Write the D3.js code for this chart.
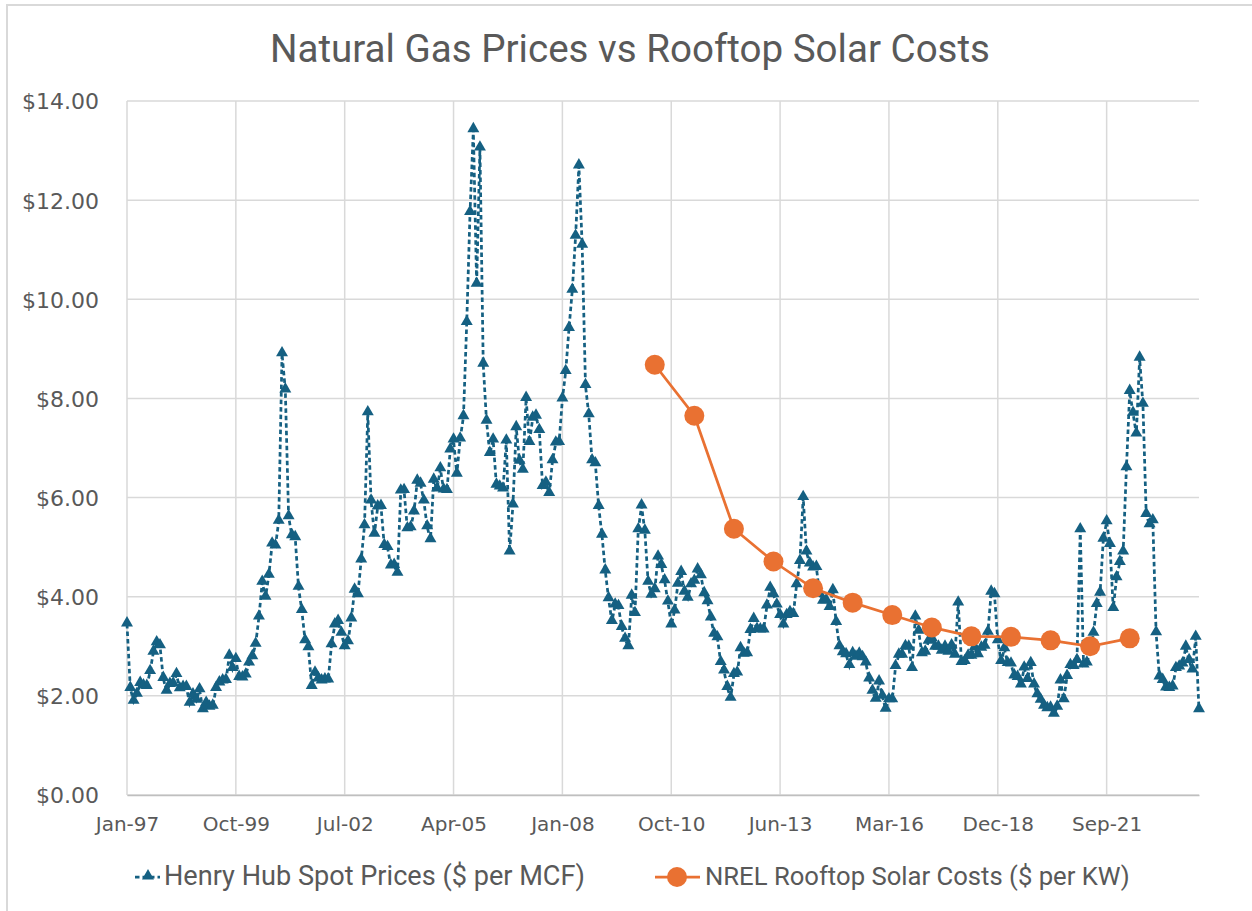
<!DOCTYPE html>
<html>
<head>
<meta charset="utf-8">
<script src="https://cdn.jsdelivr.net/npm/d3@7"></script>
<style>
  html, body { margin: 0; padding: 0; background: #fff; }
  svg { display: block; }
</style>
</head>
<body>
<svg id="chart" width="1252" height="911"></svg>
<script>
// ---------- DATA ----------
const chartTitle = "Natural Gas Prices vs Rooftop Solar Costs";
const gasStart = "1997-01"; // first month of the Henry Hub series
// Henry Hub monthly spot prices ($ per MCF), Jan-1997 .. Feb-2024
const gasPrices = [
  3.45, 2.15, 1.89, 2.03, 2.25, 2.20, 2.19, 2.49, 2.88, 3.07, 3.01, 2.35,
  2.09, 2.23, 2.24, 2.43, 2.14, 2.17, 2.17, 1.85, 2.02, 1.91, 2.12, 1.72,
  1.85, 1.77, 1.79, 2.15, 2.26, 2.30, 2.31, 2.80, 2.55, 2.73, 2.37, 2.36,
  2.42, 2.66, 2.79, 3.04, 3.59, 4.29, 3.99, 4.43, 5.06, 5.02, 5.52, 8.90,
  8.17, 5.61, 5.23, 5.19, 4.19, 3.72, 3.11, 2.97, 2.19, 2.46, 2.34, 2.30,
  2.32, 2.32, 3.03, 3.43, 3.50, 3.26, 2.99, 3.09, 3.55, 4.13, 4.04, 4.74,
  5.43, 7.71, 5.93, 5.26, 5.81, 5.82, 5.03, 4.99, 4.62, 4.63, 4.47, 6.13,
  6.14, 5.37, 5.39, 5.71, 6.33, 6.27, 5.93, 5.41, 5.15, 6.35, 6.17, 6.58,
  6.15, 6.14, 6.96, 7.16, 6.47, 7.18, 7.63, 9.53, 11.75, 13.42, 10.30, 13.05,
  8.69, 7.54, 6.89, 7.16, 6.25, 6.21, 6.17, 7.14, 4.90, 5.85, 7.41, 6.73,
  6.55, 8.00, 7.11, 7.60, 7.64, 7.35, 6.22, 6.29, 6.08, 6.74, 7.10, 7.11,
  7.99, 8.54, 9.41, 10.18, 11.27, 12.69, 11.09, 8.26, 7.67, 6.74, 6.68, 5.82,
  5.24, 4.52, 3.96, 3.50, 3.83, 3.80, 3.38, 3.14, 2.99, 4.01, 3.66, 5.35,
  5.83, 5.32, 4.29, 4.03, 4.14, 4.80, 4.63, 4.32, 3.89, 3.43, 3.71, 4.25,
  4.49, 4.09, 3.97, 4.24, 4.31, 4.54, 4.42, 4.06, 3.90, 3.57, 3.24, 3.17,
  2.67, 2.50, 2.17, 1.95, 2.43, 2.46, 2.95, 2.84, 2.85, 3.32, 3.54, 3.34,
  3.33, 3.33, 3.81, 4.17, 4.04, 3.83, 3.62, 3.43, 3.62, 3.68, 3.64, 4.24,
  4.71, 6.00, 4.90, 4.66, 4.58, 4.59, 4.05, 3.91, 3.92, 3.78, 4.12, 3.48,
  2.99, 2.87, 2.83, 2.61, 2.85, 2.78, 2.84, 2.77, 2.66, 2.34, 2.09, 1.93,
  2.28, 1.99, 1.73, 1.92, 1.92, 2.59, 2.82, 2.82, 2.99, 2.98, 2.55, 3.59,
  3.30, 2.85, 2.88, 3.10, 3.15, 2.98, 2.98, 2.90, 2.98, 2.88, 3.01, 2.82,
  3.87, 2.67, 2.69, 2.80, 2.80, 2.97, 2.83, 2.96, 3.00, 3.28, 4.09, 4.04,
  3.11, 2.69, 2.95, 2.65, 2.64, 2.40, 2.37, 2.22, 2.56, 2.33, 2.65, 2.22,
  2.02, 1.91, 1.79, 1.74, 1.75, 1.63, 1.77, 2.30, 1.92, 2.39, 2.61, 2.59,
  2.71, 5.35, 2.62, 2.66, 2.91, 3.26, 3.84, 4.07, 5.16, 5.51, 5.05, 3.76,
  4.38, 4.69, 4.90, 6.60, 8.14, 7.70, 7.28, 8.81, 7.88, 5.66, 5.45, 5.53,
  3.27, 2.38, 2.31, 2.16, 2.15, 2.18, 2.55, 2.58, 2.64, 2.98, 2.71, 2.52,
  3.18, 1.72
];
// NREL rooftop solar costs ($ per KW), one value per year
const solarMonths = ["2010-05","2011-05","2012-05","2013-05","2014-05","2015-05","2016-05",
                     "2017-05","2018-05","2019-05","2020-05","2021-05","2022-05"];
const solarCosts  = [8.68, 7.65, 5.37, 4.71, 4.17, 3.88, 3.63, 3.38, 3.20, 3.19, 3.12, 3.00, 3.16];
// category-axis tick labels (every 33rd month of the gas series)
const xTickIndex  = [0, 33, 66, 99, 132, 165, 198, 231, 264, 297];
const xTickLabels = ["Jan-97","Oct-99","Jul-02","Apr-05","Jan-08","Oct-10","Jun-13","Mar-16","Dec-18","Sep-21"];
const yTicks = [0, 2, 4, 6, 8, 10, 12, 14];
const seriesNames = ["Henry Hub Spot Prices ($ per MCF)", "NREL Rooftop Solar Costs ($ per KW)"];

// ---------- LAYOUT ----------
const W = 1252, H = 911;
const plot = { left: 127, right: 1199, top: 101, bottom: 795 };
const gasColor = "#156082", solarColor = "#E97132", textColor = "#595959", gridColor = "#d9d9d9";

const monthIndex = s => {
  const [yy, mm] = s.split("-").map(Number);
  const [y0, m0] = gasStart.split("-").map(Number);
  return (yy - y0) * 12 + (mm - m0);
};
// choose a font size so that a text spans a target width
function fitFont(sel, target) {
  const fs = +sel.attr("font-size");
  const w = sel.node().getComputedTextLength();
  if (w > 0) sel.attr("font-size", (fs * target / w).toFixed(2));
}

const svg = d3.select("#chart");
svg.append("rect").attr("width", W).attr("height", H).attr("fill", "#fff");
// outer chart border
svg.append("rect").attr("x", 7).attr("y", 5).attr("width", W + 10).attr("height", H + 10)
  .attr("fill", "none").attr("stroke", "#d9d9d9").attr("stroke-width", 2);

const x = d3.scaleLinear().domain([0, gasPrices.length - 1]).range([plot.left, plot.right]);
const y = d3.scaleLinear().domain([0, 14]).range([plot.bottom, plot.top]);

// gridlines
const g = svg.append("g");
g.append("g").selectAll("line").data(yTicks).join("line")
  .attr("x1", plot.left).attr("x2", plot.right)
  .attr("y1", d => y(d)).attr("y2", d => y(d))
  .attr("stroke", gridColor).attr("stroke-width", 1.5);
g.append("g").selectAll("line").data(xTickIndex).join("line")
  .attr("x1", d => x(d)).attr("x2", d => x(d))
  .attr("y1", plot.top).attr("y2", plot.bottom)
  .attr("stroke", gridColor).attr("stroke-width", 1.5);

// axes
const yAxis = d3.axisLeft(y).tickValues(yTicks).tickSize(0).tickPadding(0)
  .tickFormat(d => "$" + d.toFixed(2));
const yG = svg.append("g").attr("transform", `translate(${plot.left - 28},0)`).call(yAxis);
yG.select(".domain").remove();
yG.selectAll("text").attr("font-family", "DejaVu Sans").attr("font-size", 22)
  .attr("fill", textColor).attr("dy", "0.36em");

const xAxis = d3.axisBottom(x).tickValues(xTickIndex).tickSize(0).tickPadding(0)
  .tickFormat((d, i) => xTickLabels[i]);
const xG = svg.append("g").attr("transform", `translate(0,${plot.bottom})`).call(xAxis);
xG.select(".domain").attr("stroke", "#bfbfbf").attr("stroke-width", 1.5);
xG.selectAll("text").attr("font-family", "DejaVu Sans").attr("font-size", 20)
  .attr("fill", textColor).attr("dy", 0).attr("y", 36);

// Henry Hub series
const gasLine = d3.line().x((d, i) => x(i)).y(d => y(d));
svg.append("path").datum(gasPrices).attr("d", gasLine)
  .attr("fill", "none").attr("stroke", gasColor).attr("stroke-width", 2.75)
  .attr("stroke-dasharray", "4.5,3");
const tri = d3.symbol().type(d3.symbolTriangle).size(62);
svg.append("g").selectAll("path").data(gasPrices).join("path")
  .attr("d", tri).attr("transform", (d, i) => `translate(${x(i)},${y(d) - 1})`)
  .attr("fill", gasColor);

// Solar series
const solar = solarCosts.map((v, i) => ({ m: monthIndex(solarMonths[i]), v }));
const solarLine = d3.line().x(d => x(d.m)).y(d => y(d.v));
svg.append("path").datum(solar).attr("d", solarLine)
  .attr("fill", "none").attr("stroke", solarColor).attr("stroke-width", 2.75);
svg.append("g").selectAll("circle").data(solar).join("circle")
  .attr("cx", d => x(d.m)).attr("cy", d => y(d.v)).attr("r", 10)
  .attr("fill", solarColor);

// Title
const title = svg.append("text").attr("x", 630).attr("y", 62).attr("text-anchor", "middle")
  .attr("font-family", "Roboto").attr("font-size", 38).attr("fill", textColor)
  .text(chartTitle);
fitFont(title, 720);

// Legend
const legY = 877;
const leg = svg.append("g");
// item 1
leg.append("line").attr("x1", 135).attr("x2", 160).attr("y1", legY).attr("y2", legY)
  .attr("stroke", gasColor).attr("stroke-width", 2.75).attr("stroke-dasharray", "4.5,3");
leg.append("path").attr("d", tri).attr("transform", `translate(148,${legY - 1})`).attr("fill", gasColor);
const t1 = leg.append("text").attr("x", 164).attr("y", legY + 8)
  .attr("font-family", "Roboto").attr("font-size", 24).attr("fill", textColor).text(seriesNames[0]);
fitFont(t1, 421);
// item 2
leg.append("line").attr("x1", 655).attr("x2", 700).attr("y1", legY).attr("y2", legY)
  .attr("stroke", solarColor).attr("stroke-width", 2.75);
leg.append("circle").attr("cx", 677).attr("cy", legY).attr("r", 10).attr("fill", solarColor);
const t2 = leg.append("text").attr("x", 705).attr("y", legY + 8)
  .attr("font-family", "Roboto").attr("font-size", 24).attr("fill", textColor).text(seriesNames[1]);
fitFont(t2, 425);
</script>
</body>
</html>
